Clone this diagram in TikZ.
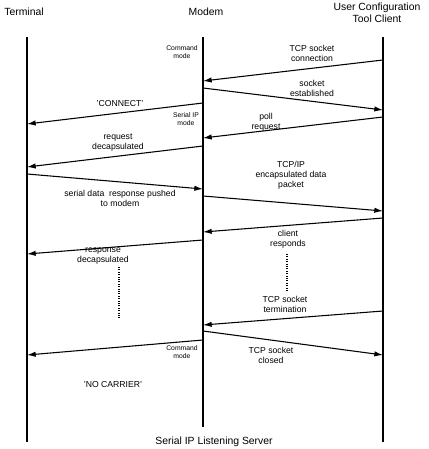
\documentclass[tikz,border=0pt]{standalone}
\usepackage{fontspec}
\setmainfont{Liberation Sans}
\usetikzlibrary{arrows.meta}

\tikzset{
  lifeline/.style={line width=1.2pt},
  msg/.style={-{Latex[length=6.5pt,width=4pt]},line width=0.8pt},
  lbl/.style={font=\fontsize{6.5}{7.4}\selectfont,align=center,inner sep=0pt},
  tiny/.style={font=\fontsize{5.1}{6}\selectfont,align=center,inner sep=0pt},
  title/.style={font=\fontsize{7.8}{9}\selectfont,align=center,inner sep=0pt},
  gap/.style={densely dotted,line width=0.8pt}
}

\begin{document}
\begin{tikzpicture}[x=0.75pt,y=-0.75pt]
  \useasboundingbox (0,0) rectangle (428,449);

  % lifelines
  \coordinate (termtop) at (27,37);   \coordinate (termbot) at (27,442);
  \coordinate (modtop) at (203,37);   \coordinate (modbot) at (203,427);
  \coordinate (clitop) at (383,37);   \coordinate (clibot) at (383,442);
  \draw[lifeline] (termtop) -- (termbot);
  \draw[lifeline] (modtop) -- (modbot);
  \draw[lifeline] (clitop) -- (clibot);

  \node[title] (term) at (24,12) {Terminal};
  \node[title] (modem) at (206,12) {Modem};
  \node[title] (client) at (377,13) {User Configuration\\Tool Client};

  % end points of the messages
  \coordinate (c1) at (383,60);   \coordinate (m1) at (203,81);
  \coordinate (m2) at (203,88);   \coordinate (c2) at (383,110);
  \coordinate (c3) at (383,117);  \coordinate (m3) at (203,138);
  \coordinate (m4) at (203,103);  \coordinate (t4) at (27,124);
  \coordinate (m5) at (203,146);  \coordinate (t5) at (27,167);
  \coordinate (t6) at (27,174);   \coordinate (m6) at (203,189);
  \coordinate (m7) at (203,196);  \coordinate (c7) at (383,211);
  \coordinate (c8) at (383,218);  \coordinate (m8) at (203,232);
  \coordinate (m9) at (203,240);  \coordinate (t9) at (27,254);
  \coordinate (c10) at (383,311); \coordinate (m10) at (203,325);
  \coordinate (m11) at (203,331); \coordinate (c11) at (383,355);
  \coordinate (m12) at (203,340); \coordinate (t12) at (27,355);

  \draw[msg] (c1) -- (m1);
  \draw[msg] (m2) -- (c2);
  \draw[msg] (c3) -- (m3);
  \draw[msg] (m4) -- (t4);
  \draw[msg] (m5) -- (t5);
  \draw[msg] (t6) -- (m6);
  \draw[msg] (m7) -- (c7);
  \draw[msg] (c8) -- (m8);
  \draw[msg] (m9) -- (t9);
  \draw[msg] (c10) -- (m10);
  \draw[msg] (m11) -- (c11);
  \draw[msg] (m12) -- (t12);

  % message labels
  \node[lbl] (l1) at (312,53) {TCP socket\\connection};
  \node[lbl] (l2) at (312,88) {socket\\established};
  \node[lbl] (l3) at (266,122) {poll\\request};
  \node[lbl] (l4) at (120,104) {'CONNECT'};
  \node[lbl] (l5) at (118,143) {request\\decapsulated};
  \node[lbl] (l6) at (120,198) {serial data\ \ response pushed\\to modem};
  \node[lbl] (l7) at (291,175) {TCP/IP\\encapsulated data\\packet};
  \node[lbl] (l8) at (288,239) {client\\responds};
  \node[lbl] (l9) at (103,256) {response\\decapsulated};
  \node[lbl] (l10) at (285,304) {TCP socket\\termination};
  \node[lbl] (l11) at (271,355) {TCP socket\\closed};
  \node[lbl] (l12) at (113,385) {'NO CARRIER'};

  % modem states
  \node[tiny] (s1) at (182,52) {Command\\mode};
  \node[tiny] (s2) at (186,119) {Serial IP\\mode};
  \node[tiny] (s3) at (182,352) {Command\\mode};

  % time passes
  \coordinate (g1a) at (119,267); \coordinate (g1b) at (119,318);
  \coordinate (g2a) at (287,254); \coordinate (g2b) at (287,292);
  \draw[gap] (g1a) -- (g1b);
  \draw[gap] (g2a) -- (g2b);

  \node[title] (caption) at (214,442) {Serial IP Listening Server};
\end{tikzpicture}
\end{document}
